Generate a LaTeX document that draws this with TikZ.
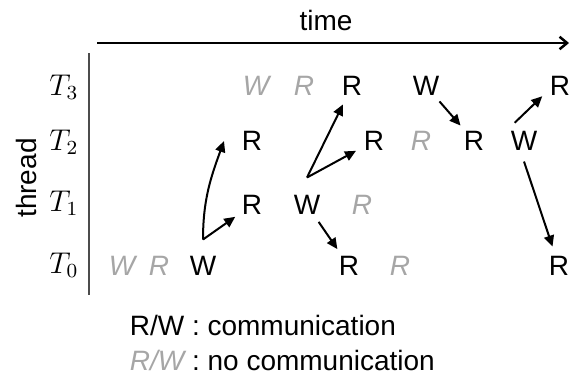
\documentclass[tikz,border=0pt]{standalone}
\usepackage[no-math]{fontspec}
\newfontfamily\arial{Liberation Sans}
\usetikzlibrary{arrows.meta}

\definecolor{nocomm}{RGB}{166,166,166}

\begin{document}
\begin{tikzpicture}[x=0.4pt, y=-0.4pt, font=\arial\fontsize{11.2}{13.4}\selectfont,
  ev/.style={circle, inner sep=0pt, minimum size=16pt},
  nc/.style={ev, text=nocomm, font=\arial\itshape\fontsize{11.2}{13.4}\selectfont},
  arr/.style={line width=0.8pt, -{Triangle[length=4.4pt, width=4pt]}},
  thr/.style={font=\fontsize{11.7}{14}\selectfont}]

  \useasboundingbox (0,0) rectangle (570,381);

  % axes
  \coordinate (tstart) at (97,43);
  \coordinate (tend) at (569,43);
  \coordinate (atop) at (89,53);
  \coordinate (abot) at (89,295);
  \draw[line width=1pt, -{Straight Barb[length=3pt, width=5pt]}] (tstart) -- (tend);
  \draw[line width=0.5pt, black!70] (atop) -- (abot);
  \node (time) at (326,20) {time};
  \node[rotate=90] (thread) at (26,178) {thread};

  \node[thr] (t3) at (64,87) {$T_3$};
  \node[thr] (t2) at (64,142) {$T_2$};
  \node[thr] (t1) at (64,203) {$T_1$};
  \node[thr] (t0) at (64,265) {$T_0$};

  % thread 3
  \node[nc] (g3w) at (256,86) {W};
  \node[nc] (g3r) at (304,86) {R};
  \node[ev] (r3) at (352,86) {R};
  \node[ev] (w3) at (426,86) {W};
  \node[ev] (r3b) at (560,86) {R};

  % thread 2
  \node[ev] (r2) at (252,141) {R};
  \node[ev] (r2b) at (374,141) {R};
  \node[nc] (g2r) at (421,141) {R};
  \node[ev] (r2c) at (474,141) {R};
  \node[ev] (w2) at (524,141) {W};

  % thread 1
  \node[ev] (r1) at (252,205) {R};
  \node[ev] (w1) at (307,205) {W};
  \node[nc] (g1r) at (362,205) {R};

  % thread 0
  \node[nc] (g0w) at (122,266) {W};
  \node[nc] (g0r) at (159,266) {R};
  \node[ev] (w0) at (203,266) {W};
  \node[ev] (r0) at (349,266) {R};
  \node[nc] (g0rb) at (400,266) {R};
  \node[ev] (r0b) at (559,266) {R};

  % communication
  \draw[arr] ([yshift=2.4pt]w0.north) -- (r1);
  \draw[arr] ([yshift=2.4pt]w0.north) to[out=90, in=-110] ([xshift=-3pt]r2.west);
  \draw[arr] ([yshift=2.8pt]w1.north) -- (r3);
  \draw[arr] ([yshift=2.8pt]w1.north) -- (r2b);
  \draw[arr] (w1) -- (r0);
  \draw[arr] (w3) -- (r2c);
  \draw[arr] (w2.117) -- (r3b.210);
  \draw[arr] (w2.south) -- (r0b);

  % legend
  \node[anchor=base west] (leg1) at (121,335) {R/W : communication};
  \node[anchor=base west] (leg2) at (121,370) {{\color{nocomm}\itshape R/W} : no communication};

\end{tikzpicture}
\end{document}
